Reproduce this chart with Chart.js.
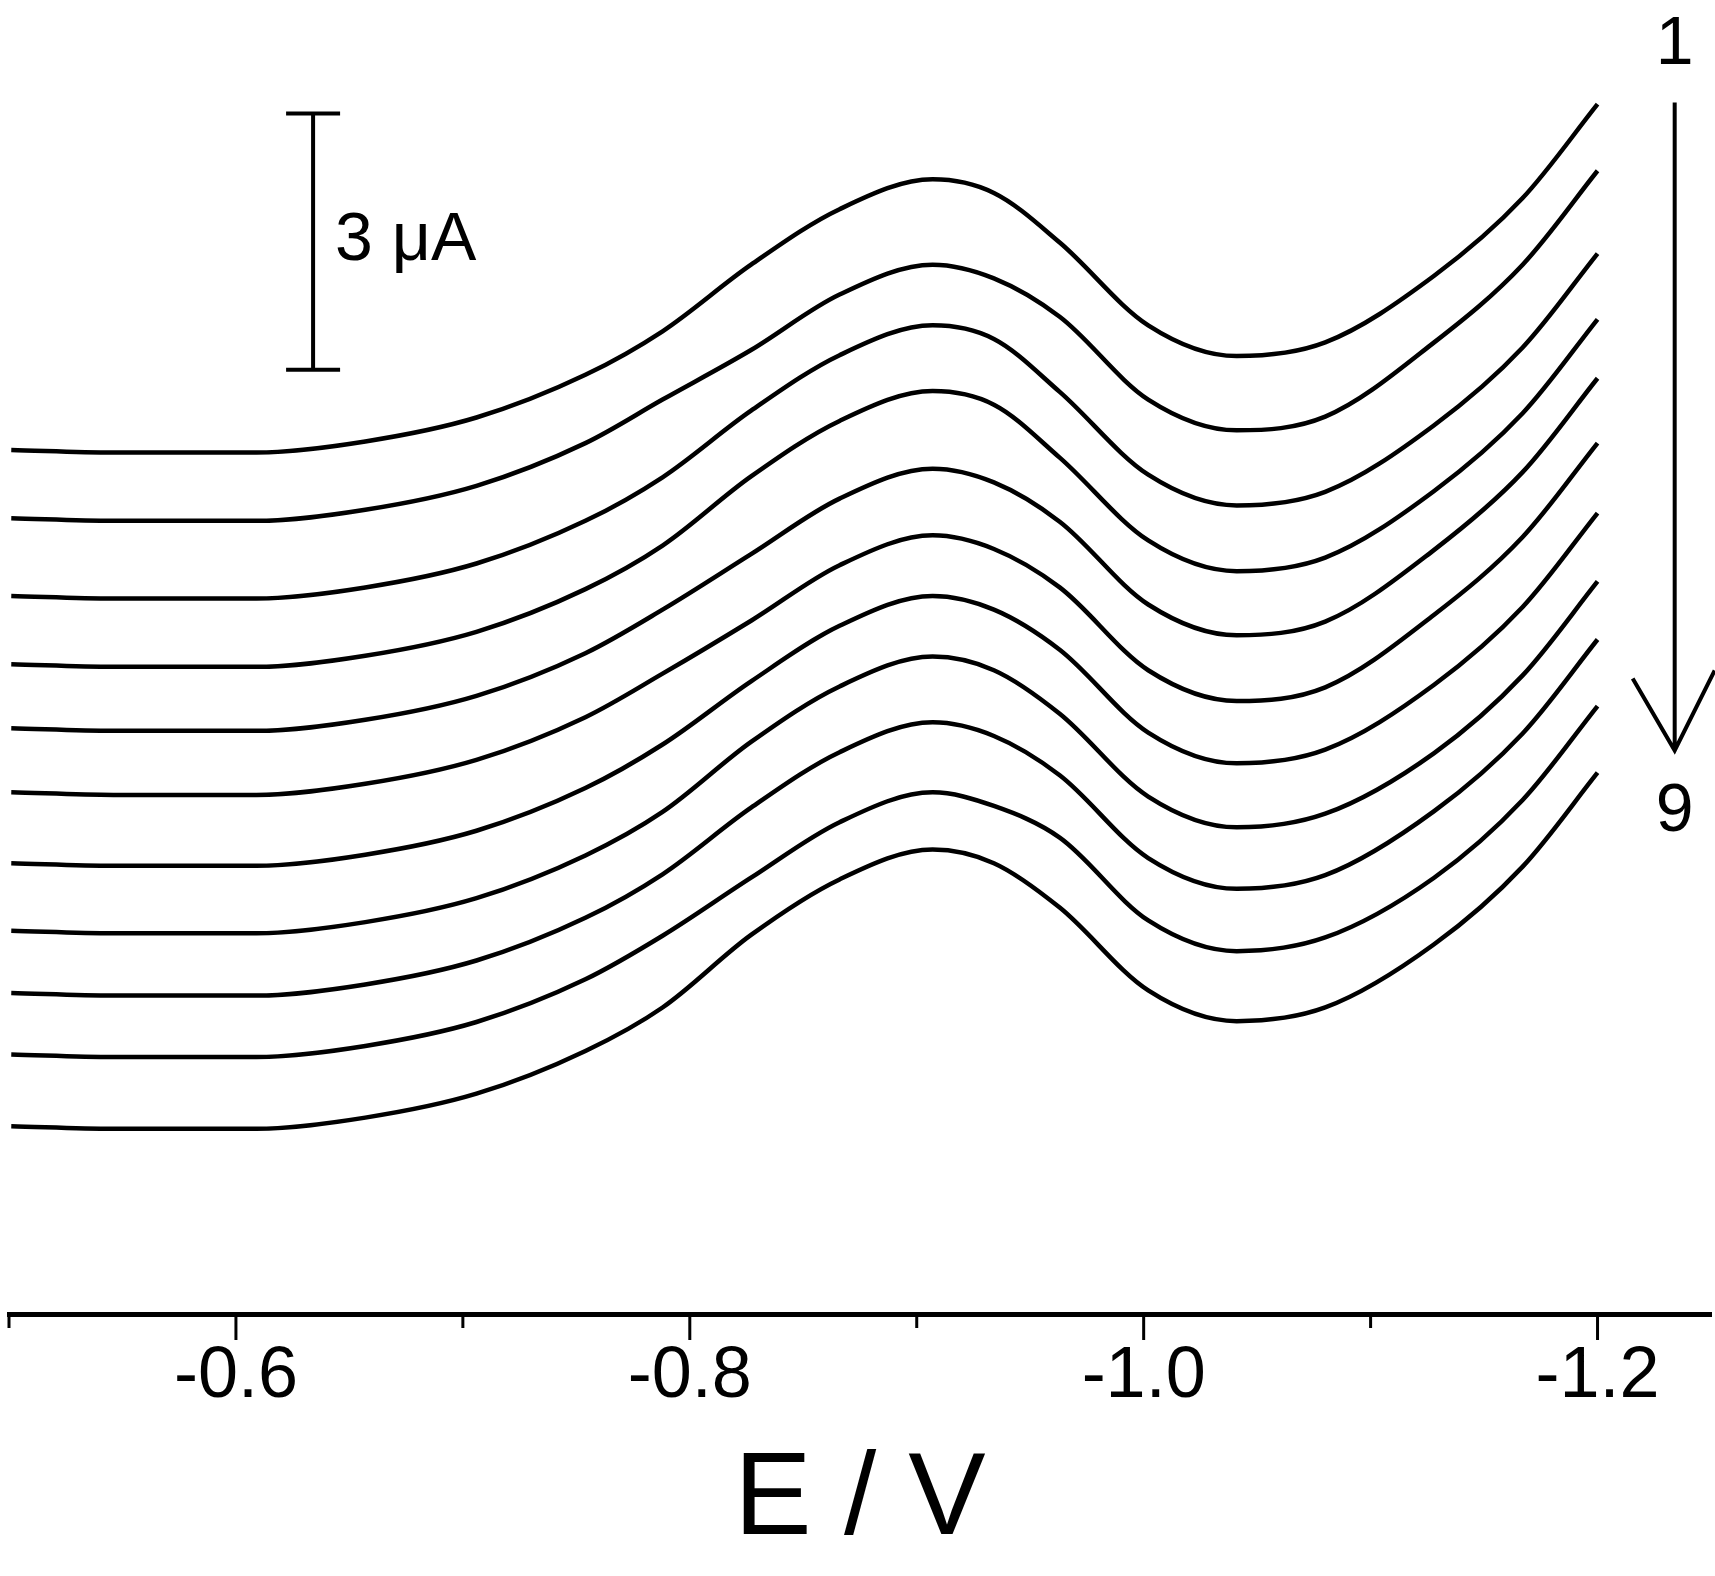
<!DOCTYPE html>
<html><head><meta charset="utf-8">
<script src="https://cdn.jsdelivr.net/npm/chart.js@4"></script>
<style>html,body{margin:0;padding:0;background:#fff}</style>
</head><body>
<canvas id="c" width="1715" height="1576"></canvas>
<script>
const potentials = [-0.501,-0.546,-0.609,-0.657,-0.706,-0.754,-0.788,-0.827,-0.866,-0.907,-0.934,-0.963,-1.002,-1.041,-1.080,-1.128,-1.167,-1.200];
const curve1 = [10.12,10.09,10.09,10.22,10.50,11.00,11.51,12.29,12.94,13.29,13.13,12.55,11.58,11.22,11.38,12.16,13.07,14.17];
const curve2 = [9.32,9.29,9.29,9.42,9.70,10.20,10.71,11.29,11.94,12.29,12.13,11.68,10.71,10.35,10.51,11.38,12.29,13.39];
const curve3 = [8.41,8.38,8.38,8.51,8.79,9.29,9.80,10.58,11.23,11.58,11.42,10.80,9.83,9.47,9.63,10.41,11.32,12.42];
const curve4 = [7.61,7.58,7.58,7.71,7.99,8.49,9.00,9.81,10.46,10.81,10.65,10.03,9.06,8.70,8.86,9.64,10.55,11.65];
const curve5 = [6.86,6.83,6.83,6.96,7.24,7.74,8.25,8.90,9.55,9.90,9.74,9.28,8.31,7.95,8.11,8.95,9.86,10.96];
const curve6 = [6.11,6.08,6.08,6.21,6.49,6.99,7.50,8.12,8.77,9.12,8.96,8.51,7.54,7.18,7.34,8.19,9.10,10.20];
const curve7 = [5.28,5.25,5.25,5.38,5.66,6.16,6.67,7.41,8.06,8.41,8.25,7.78,6.81,6.45,6.61,7.37,8.28,9.38];
const curve8 = [4.49,4.46,4.46,4.59,4.87,5.37,5.88,6.70,7.35,7.70,7.54,7.03,6.06,5.70,5.86,6.57,7.48,8.58];
const curve9 = [3.76,3.73,3.73,3.86,4.14,4.64,5.15,5.93,6.58,6.93,6.77,6.31,5.34,4.98,5.14,5.89,6.80,7.90];
const curve10 = [3.04,3.01,3.01,3.14,3.42,3.92,4.43,5.11,5.76,6.11,5.95,5.58,4.61,4.25,4.41,5.11,6.02,7.12];
const curve11 = [2.20,2.17,2.17,2.30,2.58,3.08,3.59,4.44,5.09,5.44,5.28,4.76,3.79,3.43,3.59,4.33,5.24,6.34];
const curves = [curve1,curve2,curve3,curve4,curve5,curve6,curve7,curve8,curve9,curve10,curve11];
const xTicks = [-0.6,-0.8,-1.0,-1.2];
const scaleBar = {E:-0.634, top:14.06, bottom:11.06, label:'3 μA'};
const arrow = {E:-1.234, top:14.19, bottom:6.60, labelTop:'1', labelBottom:'9'};

const FONT = '"Liberation Sans", Arial, sans-serif';
const annot = {
  id:'annot',
  afterDraw(chart){
    const {ctx, scales:{x,y}} = chart;
    ctx.save();
    ctx.strokeStyle='#000'; ctx.fillStyle='#000'; ctx.lineCap='butt';
    const ay = chart.chartArea.bottom;
    for(let k=5; k<=12; k++){
      const v=-k/10;
      const px = x.getPixelForValue(v);
      const major = k%2===0;
      ctx.lineWidth=3;
      ctx.beginPath(); ctx.moveTo(px, ay); ctx.lineTo(px, ay+(major?26:14)); ctx.stroke();
    }
    ctx.lineWidth=4;
    const sx = x.getPixelForValue(scaleBar.E), st=y.getPixelForValue(scaleBar.top), sb=y.getPixelForValue(scaleBar.bottom);
    ctx.beginPath();
    ctx.moveTo(sx,st); ctx.lineTo(sx,sb);
    ctx.moveTo(sx-27,st); ctx.lineTo(sx+27,st);
    ctx.moveTo(sx-27,sb); ctx.lineTo(sx+27,sb);
    ctx.stroke();
    ctx.font='68px '+FONT; ctx.textBaseline='middle'; ctx.textAlign='left';
    ctx.fillText(scaleBar.label, sx+22, (st+sb)/2);
    const ax = x.getPixelForValue(arrow.E), at=y.getPixelForValue(arrow.top), ab=y.getPixelForValue(arrow.bottom);
    ctx.lineWidth=4;
    ctx.beginPath(); ctx.moveTo(ax,at); ctx.lineTo(ax,ab);
    ctx.moveTo(ax-42,ab-72); ctx.lineTo(ax,ab); ctx.lineTo(ax+40,ab-80);
    ctx.stroke();
    ctx.textAlign='center';
    ctx.fillText(arrow.labelTop, ax, at-57);
    ctx.fillText(arrow.labelBottom, ax, ab+62);
    ctx.restore();
  }
};

new Chart(document.getElementById('c'), {
  type:'line',
  data:{ datasets: curves.map((c,i)=>({
    label:'Curve '+(i+1),
    data: potentials.map((p,j)=>({x:p,y:c[j]})),
    borderColor:'#000', borderWidth:4.5, pointRadius:0, fill:false,
    cubicInterpolationMode:'monotone'
  }))},
  options:{
    responsive:false, animation:false, devicePixelRatio:1,
    layout:{padding:{left:9,right:4,top:0,bottom:0}},
    plugins:{legend:{display:false}, tooltip:{enabled:false}},
    scales:{
      x:{type:'linear', reverse:true, min:-1.25, max:-0.5,
        afterBuildTicks(s){ s.ticks = xTicks.map(v=>({value:v})); },
        afterFit(s){ s.height = 262; },
        grid:{display:false, drawTicks:false},
        border:{display:true, color:'#000', width:5},
        ticks:{color:'#000', font:{size:72, family:FONT}, padding:20,
          callback:v=>v.toFixed(1)},
        title:{display:true, text:'E / V', color:'#000', font:{size:116, family:FONT}, padding:{top:44}}
      },
      y:{type:'linear', display:false, min:0, max:15.39}
    }
  },
  plugins:[annot]
});
</script>
</body></html>
